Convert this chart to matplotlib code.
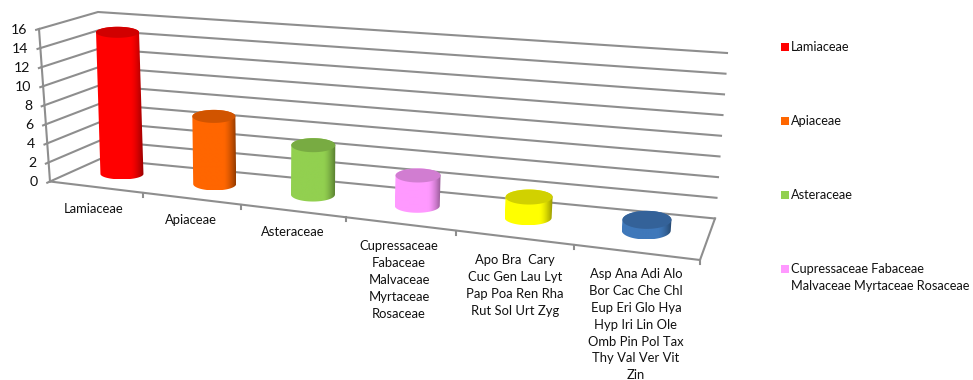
import numpy as np
import matplotlib
matplotlib.use("Agg")
import matplotlib.pyplot as plt
from matplotlib.patches import Polygon, Rectangle
from matplotlib.colors import to_rgb

plt.rcParams['font.family'] = ['Lato', 'DejaVu Sans']

families = ["Lamiaceae", "Apiaceae", "Asteraceae", "Cupressaceae Fabaceae Malvaceae Myrtaceae Rosaceae",
            "Apo Bra Cary Cuc Gen Lau Lyt Pap Poa Ren Rha Rut Sol Urt Zyg",
            "Asp Ana Adi Alo Bor Cac Che Chl Eup Eri Glo Hya Hyp Iri Lin Ole Omb Pin Pol Tax Thy Val Ver Vit Zin"]
values = [15, 7, 5, 3, 2, 1]
y_ticks = [0, 2, 4, 6, 8, 10, 12, 14, 16]
cat_labels = ["Lamiaceae", "Apiaceae", "Asteraceae",
              "Cupressaceae\nFabaceae\nMalvaceae\nMyrtaceae\nRosaceae",
              "Apo Bra  Cary\nCuc Gen Lau Lyt\nPap Poa Ren Rha\nRut Sol Urt Zyg",
              "Asp Ana Adi Alo\nBor Cac Che Chl\nEup Eri Glo Hya\nHyp Iri Lin Ole\nOmb Pin Pol Tax\nThy Val Ver Vit\nZin"]
legend_labels = ["Lamiaceae", "Apiaceae", "Asteraceae", "Cupressaceae Fabaceae\nMalvaceae Myrtaceae Rosaceae"]

colors = ["#FF0000", "#FF6600", "#92D050", "#FF99FF", "#FFFF00", "#3F78BA"]
half_w = [21.5, 21.5, 22, 22.5, 23.5, 24.5]
half_h = [5.5, 6.5, 7, 7, 7.5, 9]
label_xy = [(94, 203), (191, 214), (293, 226), (399, 240), (515, 254), (636, 268)]
legend_y = [47, 121, 195, 269]

W, H = 973, 380
fig = plt.figure(figsize=(W / 100, H / 100), dpi=100)
ax = fig.add_axes([0, 0, 1, 1])
ax.axis('off')

# corners of the pseudo-3D box in figure pixels
FLB, FRB = np.array([50, 181.5]), np.array([700, 260])
BLB, BRB = np.array([100, 159]), np.array([715, 218.5])
FLT, FRT = np.array([39, 29]), np.array([714, 80])
BLT, BRT = np.array([98, 12]), np.array([727, 53])
K = -0.166


def proj(cat, z, v):
    """cat in 0..n, depth z in 0..1, value v in 0..16 -> pixel position."""
    u = cat / len(values)
    u = u * (1 + K) / (1 + K * u)
    bot = (1 - z) * ((1 - u) * FLB + u * FRB) + z * ((1 - u) * BLB + u * BRB)
    top = (1 - z) * ((1 - u) * FLT + u * FRT) + z * ((1 - u) * BLT + u * BRT)
    t = v / y_ticks[-1]
    return (1 - t) * bot + t * top


GRID = "#8E8E8E"
LW = 1.5
n = len(values)
for t in y_ticks:
    a, b, c = proj(0, 0, t), proj(0, 1, t), proj(n, 1, t)
    ax.plot([a[0], b[0], c[0]], [a[1], b[1], c[1]], color=GRID, lw=LW, zorder=1,
            solid_joinstyle='miter')
    d = a + (a - b) / np.linalg.norm(a - b) * 3
    ax.plot([a[0], d[0]], [a[1], d[1]], color=GRID, lw=LW, zorder=1)
    ax.text(a[0] - 12, a[1] + 0.5, str(t), ha='right', va='center', fontsize=10.2, color='#111111')
# front edges
p = [proj(0, 0, 16), proj(0, 0, 0), proj(n, 0, 0), proj(n, 1, 0)]
ax.plot(*zip(*p), color=GRID, lw=LW, zorder=1, solid_joinstyle='miter')
for i in range(1, n + 1):
    a = proj(i, 0, 0)
    ax.plot([a[0], a[0]], [a[1], a[1] + 4], color=GRID, lw=LW, zorder=1)

# cylinders
theta = np.linspace(0, np.pi, 60)
for i, (val, col) in enumerate(zip(values, colors)):
    bot = proj(i + 0.5, 0.55, 0)
    top = proj(i + 0.5, 0.55, val)
    w, h = half_w[i], half_h[i]
    upper = np.c_[top[0] + w * np.cos(theta), top[1] - h * np.sin(theta)]
    lower = np.c_[bot[0] + w * np.cos(theta[::-1]), bot[1] + h * np.sin(theta[::-1])]
    body = np.vstack([upper, lower])
    base = np.array(to_rgb(col))
    x = np.linspace(0, 1, 128)
    shade = np.where(x < 0.72, 1.0, 1.0 - 0.42 * ((x - 0.72) / 0.28) ** 1.5)
    img = np.outer(shade, base).reshape(1, 128, 3).clip(0, 1)
    x0, x1 = body[:, 0].min(), body[:, 0].max()
    poly = Polygon(body, closed=True, facecolor='none', edgecolor='none', zorder=3)
    ax.add_patch(poly)
    im = ax.imshow(img, extent=(x0, x1, body[:, 1].max(), body[:, 1].min()), aspect='auto', zorder=3,
                   interpolation='bilinear')
    im.set_clip_path(poly)
    t2 = np.linspace(0, 2 * np.pi, 80)
    ax.add_patch(Polygon(np.c_[top[0] + w * np.cos(t2), top[1] + h * np.sin(t2)], closed=True,
                         facecolor=base * 0.82, edgecolor='none', zorder=4))

for (x, y), lab in zip(label_xy, cat_labels):
    ax.text(x, y, lab, ha='center', va='top', fontsize=9.4, color='#111111', linespacing=1.49)

for y, lab, col in zip(legend_y, legend_labels, colors):
    ax.add_patch(Rectangle((781, y - 4), 8, 8, facecolor=col, edgecolor='none', zorder=3))
    ax.text(791, y - 6, lab, ha='left', va='top', fontsize=9.2, color='#111111', linespacing=1.52)

ax.set_xlim(0, W)
ax.set_ylim(H, 0)
fig.savefig("out.png", dpi=100)
